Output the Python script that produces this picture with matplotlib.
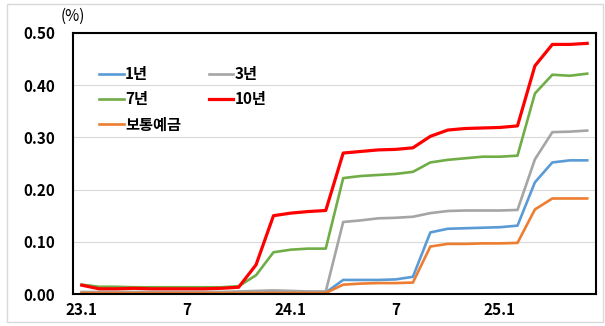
import matplotlib.pyplot as plt
from matplotlib.patches import Rectangle

plt.rcParams['font.family'] = ['Noto Sans CJK KR', 'DejaVu Sans']

# monthly rates, 23.1 ~ 25.6
months = ['23.1', '2', '3', '4', '5', '6', '7', '8', '9', '10', '11', '12',
          '24.1', '2', '3', '4', '5', '6', '7', '8', '9', '10', '11', '12',
          '25.1', '2', '3', '4', '5', '6']
tick_pos = [0, 6, 12, 18, 24]
tick_labels = ['23.1', '7', '24.1', '7', '25.1']

y1 = [0.003, 0.003, 0.003, 0.003, 0.003, 0.003, 0.003, 0.003, 0.003, 0.003,
      0.004, 0.005, 0.004, 0.004, 0.003, 0.027, 0.027, 0.027, 0.028, 0.033,
      0.118, 0.125, 0.126, 0.127, 0.128, 0.131, 0.214, 0.252, 0.256, 0.256]
y3 = [0.004, 0.004, 0.004, 0.004, 0.004, 0.004, 0.004, 0.004, 0.004, 0.005,
      0.006, 0.007, 0.006, 0.005, 0.005, 0.138, 0.141, 0.145, 0.146, 0.148,
      0.155, 0.159, 0.160, 0.160, 0.160, 0.161, 0.258, 0.310, 0.311, 0.313]
y7 = [0.018, 0.014, 0.014, 0.013, 0.013, 0.013, 0.013, 0.013, 0.013, 0.015,
      0.036, 0.080, 0.085, 0.087, 0.087, 0.222, 0.226, 0.228, 0.230, 0.234,
      0.252, 0.257, 0.260, 0.263, 0.263, 0.265, 0.384, 0.420, 0.418, 0.422]
y10 = [0.017, 0.010, 0.010, 0.011, 0.010, 0.010, 0.010, 0.010, 0.011, 0.013,
       0.056, 0.150, 0.155, 0.158, 0.160, 0.270, 0.273, 0.276, 0.277, 0.280,
       0.302, 0.314, 0.317, 0.318, 0.319, 0.322, 0.437, 0.478, 0.478, 0.480]
savings = [0.002, 0.002, 0.002, 0.002, 0.002, 0.002, 0.002, 0.002, 0.002, 0.002,
           0.002, 0.002, 0.002, 0.002, 0.002, 0.018, 0.020, 0.021, 0.021, 0.022,
           0.091, 0.096, 0.096, 0.097, 0.097, 0.098, 0.162, 0.183, 0.183, 0.183]

x = range(len(months))

fig = plt.figure(figsize=(6.05, 3.26), dpi=100)
ax = fig.add_axes([0.1207, 0.098, 0.8643, 0.801])

l1, = ax.plot(x, y1, color='#5B9BD5', lw=1.9, label='1년')
l3, = ax.plot(x, y3, color='#A5A5A5', lw=1.9, label='3년')
l7, = ax.plot(x, y7, color='#70AD47', lw=1.9, label='7년')
l10, = ax.plot(x, y10, color='#FF0000', lw=2.3, label='10년')
ls, = ax.plot(x, savings, color='#ED7D31', lw=1.9, label='보통예금')

ax.set_xlim(-0.5, len(months) - 0.5)
ax.set_ylim(0, 0.5)
ax.set_yticks([0, 0.1, 0.2, 0.3, 0.4, 0.5])
ax.set_yticklabels(['0.00', '0.10', '0.20', '0.30', '0.40', '0.50'])
ax.set_xticks(tick_pos)
ax.set_xticklabels(tick_labels)
ax.tick_params(length=0, labelsize=11)
ax.tick_params(axis='y', pad=13)
ax.tick_params(axis='x', pad=6)
for lab in ax.get_xticklabels() + ax.get_yticklabels():
    lab.set_fontweight('bold')
ax.grid(axis='y', color='#D9D9D9', lw=0.8)
ax.set_axisbelow(True)
for s in ax.spines.values():
    s.set_color('black')
    s.set_linewidth(1.5)

ax.text(0.0, 1.065, '(%)', transform=ax.transAxes, fontsize=11,
        ha='center', va='center')

# legend laid out row by row: 1년 3년 / 7년 10년 / 보통예금
handles = [l1, l7, ls, l3, l10]
ax.legend(handles, [h.get_label() for h in handles], loc='upper left',
          bbox_to_anchor=(0.05, 0.873), ncol=2, frameon=False,
          borderpad=0, borderaxespad=0, handlelength=1.6, handletextpad=0.1,
          columnspacing=1.8, labelspacing=0.6,
          prop={'weight': 'bold', 'size': 11})

# outer border
fig.patches.append(Rectangle((0.011, 0.012), 0.985, 0.975, transform=fig.transFigure,
                             fill=False, edgecolor='#D9D9D9', lw=1))

plt.savefig('out.png', dpi=100)
